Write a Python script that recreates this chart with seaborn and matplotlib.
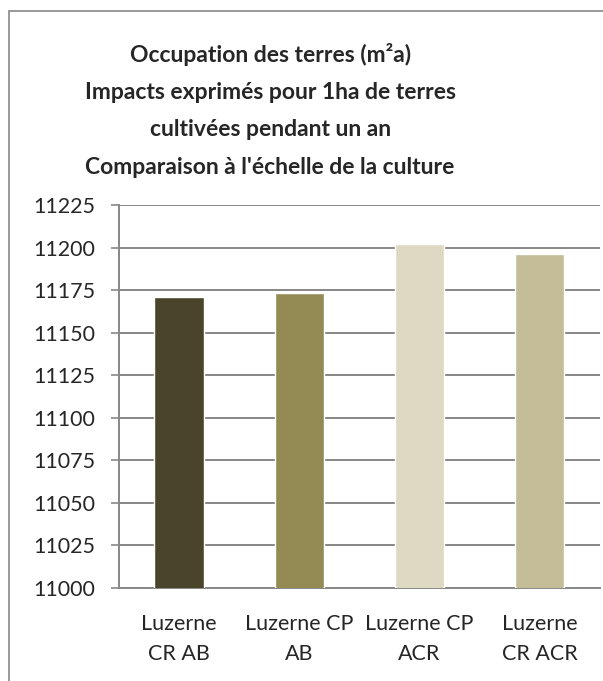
import matplotlib
matplotlib.use("Agg")
import matplotlib.pyplot as plt
import matplotlib.patches as mpatches
import pandas as pd
import seaborn as sns

# chart values
categories = ["Luzerne\nCR AB", "Luzerne CP\nAB", "Luzerne CP\nACR", "Luzerne\nCR ACR"]
values = [11171, 11173, 11202, 11196]
colors = ["#4a452a", "#948a54", "#ddd9c3", "#c4bd97"]
yticks = list(range(11000, 11226, 25))
title = ("Occupation des terres (m²a)\n"
         "Impacts exprimés pour 1ha de terres\n"
         "cultivées pendant un an\n"
         "Comparaison à l'échelle de la culture")

sns.set_style("white")
plt.rcParams['font.family'] = ['Lato', 'DejaVu Sans']

df = pd.DataFrame({"cat": categories, "val": values})

fig = plt.figure(figsize=(6.03, 6.81), dpi=100)
ax = fig.add_axes([0.197, 0.1366, 0.798, 0.5624])

sns.barplot(data=df, x="cat", y="val", hue="cat", palette=colors, saturation=1,
            legend=False, width=0.41, ax=ax, zorder=3)

ax.set_ylim(11000, 11225)
ax.set_yticks(yticks)
ax.set_yticklabels([str(t) for t in yticks], fontsize=15.5)
ax.set_xlim(-0.5, 3.5)
ax.yaxis.grid(True, color="#878787", linewidth=1.4, zorder=0)
ax.set_axisbelow(True)
ax.set_xlabel("")
ax.set_ylabel("")

# category boundary ticks on x axis
ax.set_xticks([-0.5, 0.5, 1.5, 2.5, 3.5], minor=False)
ax.set_xticklabels([])
ax.set_xticks([0, 1, 2, 3], minor=True)
ax.set_xticklabels(categories, minor=True, fontsize=15.5, linespacing=1.62)
ax.tick_params(axis="x", which="major", length=6, width=1.2, color="#878787", direction="out")
ax.tick_params(axis="x", which="minor", length=0, pad=19)
ax.tick_params(axis="y", length=6, width=1.2, color="#878787", direction="out", pad=11, left=True)

for side in ["top", "right"]:
    ax.spines[side].set_visible(False)
for side in ["left", "bottom"]:
    ax.spines[side].set_color("#878787")
    ax.spines[side].set_linewidth(1.4)

fig.text(0.448, 0.838, title, ha="center", va="center", fontsize=16.5,
         fontweight="bold", linespacing=1.95)

# outer chart frame, running past the right and bottom edges
frame = mpatches.Rectangle((9 / 603, -0.05), 1.0, 1.05 - 11 / 681, transform=fig.transFigure,
                           fill=False, edgecolor="#878787", linewidth=1.2)
fig.patches.append(frame)

fig.savefig("out.png", dpi=100)
